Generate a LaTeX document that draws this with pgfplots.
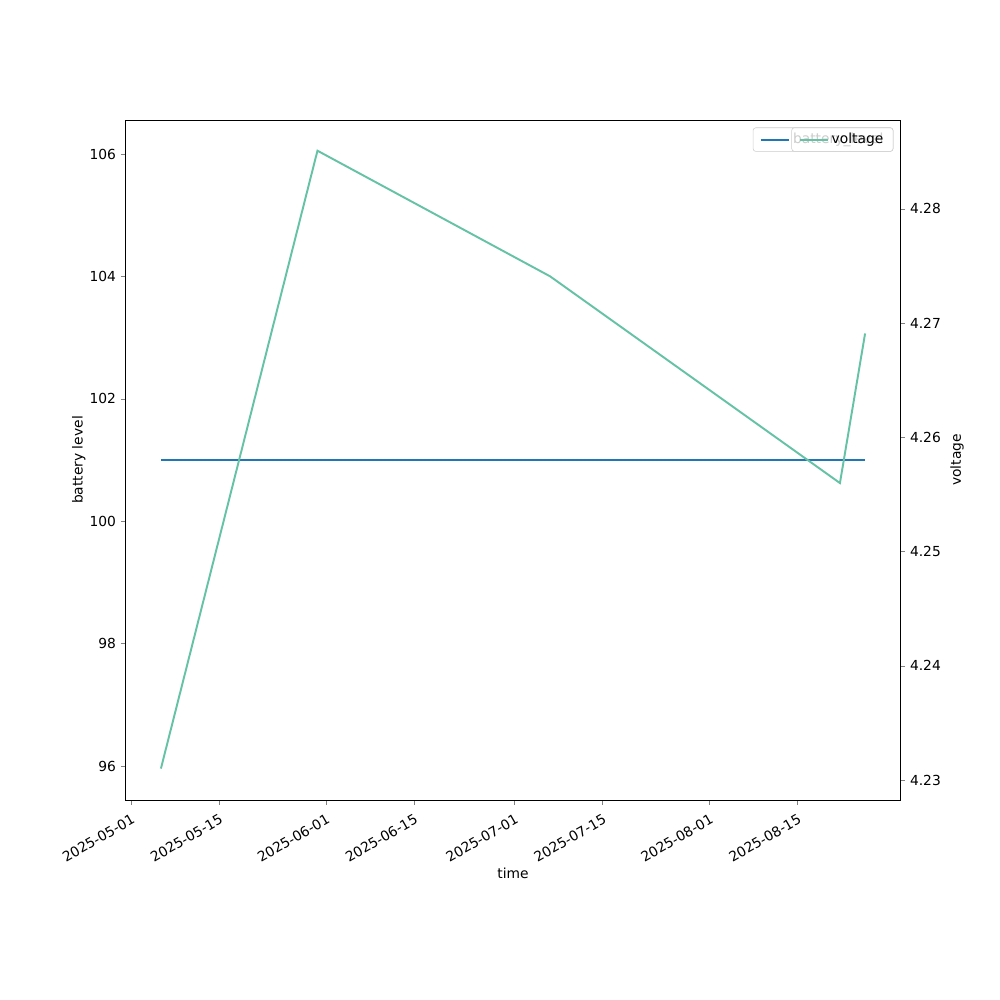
\documentclass[border=0pt]{standalone}
\usepackage{pgfplots}
\pgfplotsset{compat=1.18}
\usepackage{fontspec}
\setmainfont{DejaVu Sans}
\definecolor{c0}{HTML}{1F77B4}
\definecolor{c1}{HTML}{66C2A5}
\pgfplotsset{
  common/.style={
    scale only axis, width=7.746in, height=6.8in,
    xmin=-0.8, xmax=122.4,
    tick align=outside, major tick length=3.5pt,
    /pgf/number format/assume math mode=true,
    tick label style={font=\fontsize{10}{12}\selectfont},
    label style={font=\fontsize{10}{12}\selectfont},
    legend style={font=\fontsize{10}{12}\selectfont, at={(0.991,0.989)}, anchor=north east,
      draw=black!20, rounded corners=2pt, fill=white, fill opacity=0.8, text opacity=1,
      inner xsep=5pt, inner ysep=2pt, legend cell align=left},
    legend image code/.code={\draw[#1] (0cm,0cm) -- (0.72cm,0cm);},
  }
}
\begin{document}
\begin{tikzpicture}
\useasboundingbox (-1.257in,-2in) rectangle (8.743in,8in);
\begin{axis}[common,
  ymin=95.444, ymax=106.556,
  ytick={96,98,100,102,104,106},
  xtick={0,14,31,45,61,75,92,106},
  xticklabels={2025-05-01,2025-05-15,2025-06-01,2025-06-15,2025-07-01,2025-07-15,2025-08-01,2025-08-15},
  xticklabel style={rotate=30, anchor=north east, inner sep=0pt},
  xticklabel shift=6pt,
  xtick pos=bottom, ytick pos=left,
  xlabel={time}, ylabel={battery level},
  ylabel style={yshift=-4pt},
  xlabel style={yshift=0pt},
]
\addplot[c0, line width=1.4pt, no marks] coordinates {(4.8,101) (116.8,101)};
\addlegendentry{battery\_level}
\end{axis}
\begin{axis}[common,
  ymin=4.22825, ymax=4.28779,
  ytick={4.23,4.24,4.25,4.26,4.27,4.28},
  yticklabel style={/pgf/number format/fixed, /pgf/number format/precision=2, /pgf/number format/fixed zerofill},
  axis x line=none, axis y line*=right,
  ylabel={voltage},
  ylabel style={rotate=0},
]
\addplot[c1, line width=1.4pt, no marks] coordinates {
(4.8,4.2310) (29.7,4.2851) (66.7,4.2741) (112.8,4.2560) (116.8,4.2691)};
\addlegendentry{voltage}
\end{axis}
\end{tikzpicture}
\end{document}
